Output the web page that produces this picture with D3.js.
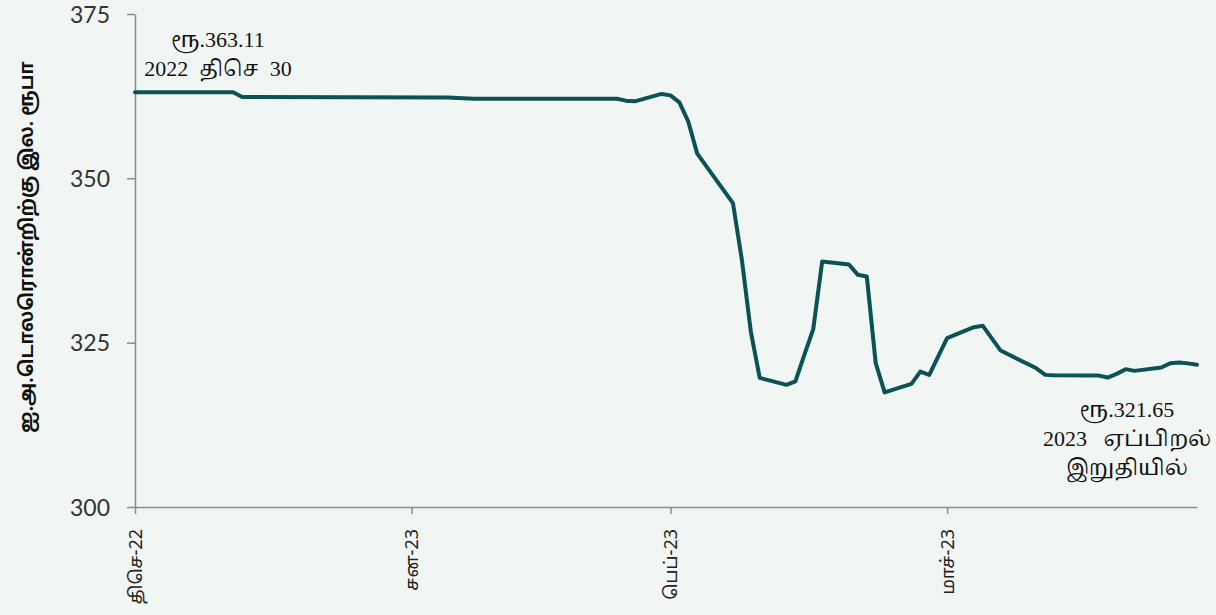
<!DOCTYPE html>
<html><head><meta charset="utf-8">
<script src="https://cdn.jsdelivr.net/npm/d3@7"></script>
<style>
html,body{margin:0;padding:0;background:#f1f6f4;}
svg{display:block;}
text.note{white-space:pre;}
</style></head>
<body>
<svg id="chart" width="1216" height="615"></svg>
<script>
const dates = ["2022-12-30","2023-01-10","2023-01-11","2023-02-03","2023-02-06","2023-02-22","2023-02-23","2023-02-24","2023-02-27","2023-02-28","2023-03-01","2023-03-02","2023-03-03","2023-03-07","2023-03-08","2023-03-09","2023-03-10","2023-03-13","2023-03-14","2023-03-15","2023-03-16","2023-03-17","2023-03-20","2023-03-21","2023-03-22","2023-03-23","2023-03-24","2023-03-27","2023-03-28","2023-03-29","2023-03-31","2023-04-03","2023-04-04","2023-04-06","2023-04-10","2023-04-11","2023-04-12","2023-04-17","2023-04-18","2023-04-19","2023-04-20","2023-04-21","2023-04-24","2023-04-25","2023-04-26","2023-04-27","2023-04-28"];
const rates = [363.11,363.11,362.38,362.30,362.12,362.10,361.82,361.71,362.84,362.62,361.56,358.62,353.75,346.24,337.61,326.72,319.64,318.58,319.11,323.14,327.06,337.35,336.89,335.32,335.06,321.88,317.43,318.73,320.60,320.10,325.69,327.36,327.56,323.80,321.10,320.10,320.05,319.99,319.69,320.25,320.97,320.71,321.21,321.88,321.97,321.85,321.65];
const xTickDates = ["2022-12-30","2023-01-30","2023-02-28","2023-03-31"];
const xTickLabels = ["திசெ-22","சன-23","பெப்-23","மாச்-23"];
const yTicks = [300,325,350,375];
const yTitle = "ஐ.அ.டொலரொன்றிற்கு இல. ரூபா";
const startNote = ["ரூ.363.11","2022  திசெ  30"];
const endNote = ["ரூ.321.65","2023   ஏப்பிறல்","இறுதியில்"];

const parse = d3.timeParse("%Y-%m-%d");
const data = dates.map((d,i)=>({date:parse(d), v:rates[i]}));

const svg = d3.select("#chart");
const x = d3.scaleTime().domain([parse("2022-12-30"), parse("2023-04-28")]).range([135, 1197]);
const y = d3.scaleLinear().domain([300,375]).range([507, 14]);

const axisColor = "#8c8c8c";
const sans = "Lato, 'Open Sans', sans-serif";
const tamil = "'Noto Sans Tamil', 'Latha', 'Noto Sans', sans-serif";
const serif = "'Liberation Serif', 'Times New Roman', 'Noto Serif Tamil', serif";

// Y axis
const yAxis = svg.append("g").attr("transform","translate(135,0)")
  .call(d3.axisLeft(y).tickValues(yTicks).tickSize(8).tickSizeOuter(0).tickPadding(17));
yAxis.select(".domain").attr("stroke",axisColor).attr("stroke-width",1.5);
yAxis.selectAll(".tick line").attr("stroke",axisColor).attr("stroke-width",1.5);
yAxis.selectAll(".tick text").attr("fill","#333").style("font-family",sans).style("font-size","23px").attr("dy","0.35em");

// X axis
const tickMap = new Map(xTickDates.map((d,i)=>[+parse(d), xTickLabels[i]]));
const xAxis = svg.append("g").attr("transform","translate(0,507)")
  .call(d3.axisBottom(x).tickValues(xTickDates.map(parse)).tickSize(7).tickSizeOuter(0).tickFormat(d=>tickMap.get(+d)));
xAxis.select(".domain").attr("stroke",axisColor).attr("stroke-width",1.5);
xAxis.selectAll(".tick line").attr("stroke",axisColor).attr("stroke-width",1.5);
xAxis.selectAll(".tick text")
  .attr("fill","#222")
  .style("font-family",tamil).style("font-size","18px")
  .attr("text-anchor","end")
  .attr("transform","rotate(-90)")
  .attr("x",-22).attr("y",0).attr("dy","0.35em");

// Line
const line = d3.line().x(d=>x(d.date)).y(d=>y(d.v));
svg.append("path").datum(data)
  .attr("d",line).attr("fill","none")
  .attr("stroke","#0b5352").attr("stroke-width",4)
  .attr("stroke-linejoin","round").attr("stroke-linecap","round");

// Y title
svg.append("text")
  .attr("transform","translate(33,247) rotate(-90)")
  .attr("text-anchor","middle")
  .style("font-family",tamil).style("font-size","19px").style("font-weight","bold")
  .attr("fill","#111")
  .text(yTitle);

// Annotations
const startX = x(data[0].date) + 83;
svg.append("g").selectAll("text").data(startNote).join("text")
  .attr("class","note")
  .attr("x",startX).attr("y",(d,i)=>47+i*29)
  .attr("text-anchor","middle")
  .style("font-family",serif).style("font-size","22px").attr("fill","#111")
  .text(d=>d);

const endX = x(data[data.length-1].date) - 70;
svg.append("g").selectAll("text").data(endNote).join("text")
  .attr("class","note")
  .attr("x",endX).attr("y",(d,i)=>417+i*29)
  .attr("text-anchor","middle")
  .style("font-family",serif).style("font-size","22px").attr("fill","#111")
  .text(d=>d);
</script>
</body></html>
